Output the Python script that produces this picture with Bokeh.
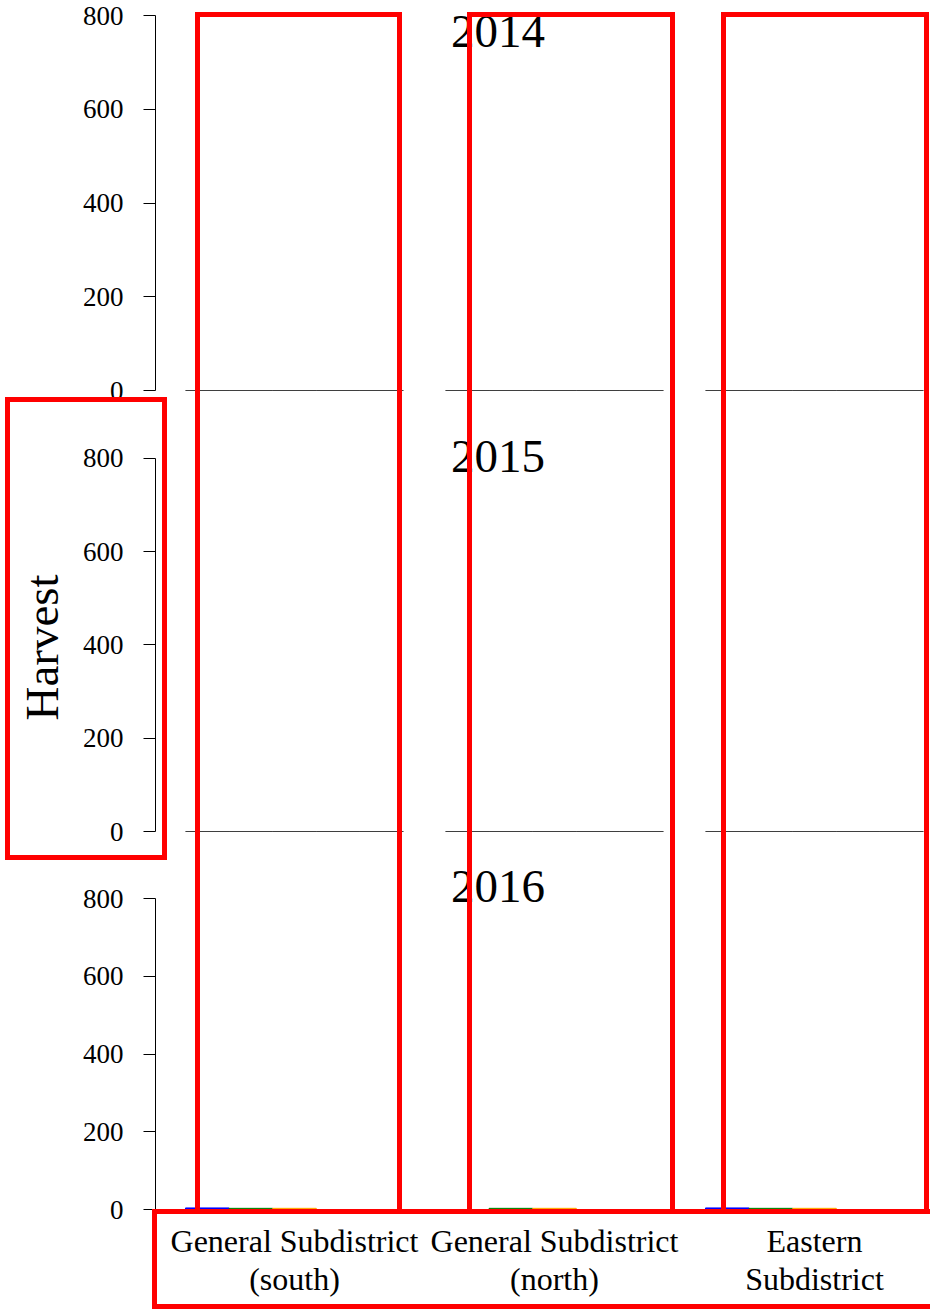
from bokeh.plotting import figure
from bokeh.layouts import column
from bokeh.models import (ColumnDataSource, FixedTicker, Range1d, Label, Title,
                          InlineStyleSheet)
from bokeh.transform import dodge
from bokeh.embed import file_html
from bokeh.resources import INLINE

# ---------------- data ----------------
years = ["2014", "2015", "2016"]
categories = ["General Subdistrict (south)", "General Subdistrict (north)", "Eastern Subdistrict"]
category_labels = ["General Subdistrict\n(south)", "General Subdistrict\n(north)", "Eastern\nSubdistrict"]
groups = ["Group 1", "Group 2", "Group 3", "Group 4", "Group 5"]
group_colors = ["#0000FF", "#008000", "#FFA500", "#000000", "#000000"]
# harvest per category (rows) and group (columns)
harvest_2014 = [[0, 0, 0, 0, 0], [0, 0, 0, 0, 0], [0, 0, 0, 0, 0]]
harvest_2015 = [[0, 0, 0, 0, 0], [0, 0, 0, 0, 0], [0, 0, 0, 0, 0]]
harvest_2016 = [[4, 3, 3, 0, 0], [0, 3, 3, 0, 0], [4, 3, 3, 0, 0]]
y_ticks = [0, 200, 400, 600, 800]

# ---------------- layout / style ----------------
FONT = "Liberation Serif"
W = 930
LEFT = 155
X_RANGE = (-0.5346, 2.4462)
BAR_W = 0.1677
# (height, border bottom, y end, year label y)
panels = [
    (404, 14, 832.0, 766),
    (442, 15, 915.8, 804),
    (464, 101, 933.8, 831),
]
YEAR_X = 0.783
red_boxes = [  # outer edges in px: left, top, right, bottom
    (195, 12, 402, 1214),
    (467, 12, 675, 1214),
    (721, 12, 929, 1214),
    (5, 397, 167, 860),
    (152, 1209, 935, 1309),
]
RED_W = 5

all_values = [harvest_2014, harvest_2015, harvest_2016]
figs = []
for i, (h, bb, yend, yl) in enumerate(panels):
    show_x = i == len(panels) - 1
    p = figure(width=W, height=h, output_backend="svg", toolbar_location=None,
               x_range=Range1d(*X_RANGE), y_range=Range1d(0, yend),
               min_border_left=LEFT, min_border_right=0,
               min_border_top=0, min_border_bottom=bb,
               x_axis_location="below" if show_x else None,
               background_fill_color="white", border_fill_color="white")
    p.outline_line_color = None
    p.grid.visible = False

    ya = p.yaxis[0]
    ya.ticker = FixedTicker(ticks=y_ticks)
    ya.bounds = (0, 800)
    ya.minor_tick_line_color = None
    ya.major_tick_in = 0
    ya.major_tick_out = 12
    ya.major_label_standoff = 20
    ya.axis_line_color = "black"
    ya.major_tick_line_color = "black"
    ya.major_label_text_font = FONT
    ya.major_label_text_font_size = "27px"
    ya.major_label_text_color = "black"

    if show_x:
        xa = p.xaxis[0]
        xa.ticker = FixedTicker(ticks=list(range(len(categories))))
        xa.major_label_overrides = {j: category_labels[j] for j in range(len(categories))}
        xa.axis_line_color = None
        xa.major_tick_line_color = None
        xa.minor_tick_line_color = None
        xa.major_tick_out = 0
        xa.major_tick_in = 0
        xa.major_label_standoff = 13
        xa.major_label_text_font = FONT
        xa.major_label_text_font_size = "32px"
        xa.major_label_text_line_height = 1.06
        xa.major_label_text_color = "black"

    vals = all_values[i]
    for g in range(len(groups)):
        tops = [vals[c][g] for c in range(len(categories))]
        outline = [group_colors[g] if t > 0 else "black" for t in tops]
        src = ColumnDataSource(dict(x=list(range(len(categories))), top=tops, outline=outline))
        off = (g - (len(groups) - 1) / 2) * BAR_W
        p.vbar(x=dodge("x", off, range=p.x_range), top="top", bottom=0, width=BAR_W,
               fill_color=group_colors[g], line_color="outline", line_width=1, source=src)

    p.add_layout(Label(x=YEAR_X, y=yl, text=years[i], text_font=FONT, text_font_size="47px",
                       text_align="center", text_baseline="middle", text_color="black"))
    if i == 1:
        p.add_layout(Title(text="Harvest", align="left", offset=111, standoff=24,
                           text_font=FONT, text_font_size="47px", text_font_style="normal",
                           text_color="black"), "left")
    figs.append(p)

# red outline boxes drawn as an overlay of the whole layout
layers = []
for (l, t, r, b) in red_boxes:
    bw, bh = r - l, b - t
    grad = "linear-gradient(#ff0000,#ff0000)"
    layers.append(f"{grad} {l}px {t}px / {bw}px {RED_W}px no-repeat")
    layers.append(f"{grad} {l}px {b - RED_W}px / {bw}px {RED_W}px no-repeat")
    layers.append(f"{grad} {l}px {t}px / {RED_W}px {bh}px no-repeat")
    layers.append(f"{grad} {r - RED_W}px {t}px / {RED_W}px {bh}px no-repeat")
css = (":host { position: relative; }\n"
       ":host::after { content: ''; position: absolute; left: 0; top: 0; "
       f"width: {W}px; height: 1310px; pointer-events: none; z-index: 10; "
       "background: " + ", ".join(layers) + "; }")

layout = column(*figs, spacing=0, stylesheets=[InlineStyleSheet(css=css)])
open("out.html", "w").write(file_html(layout, INLINE))
